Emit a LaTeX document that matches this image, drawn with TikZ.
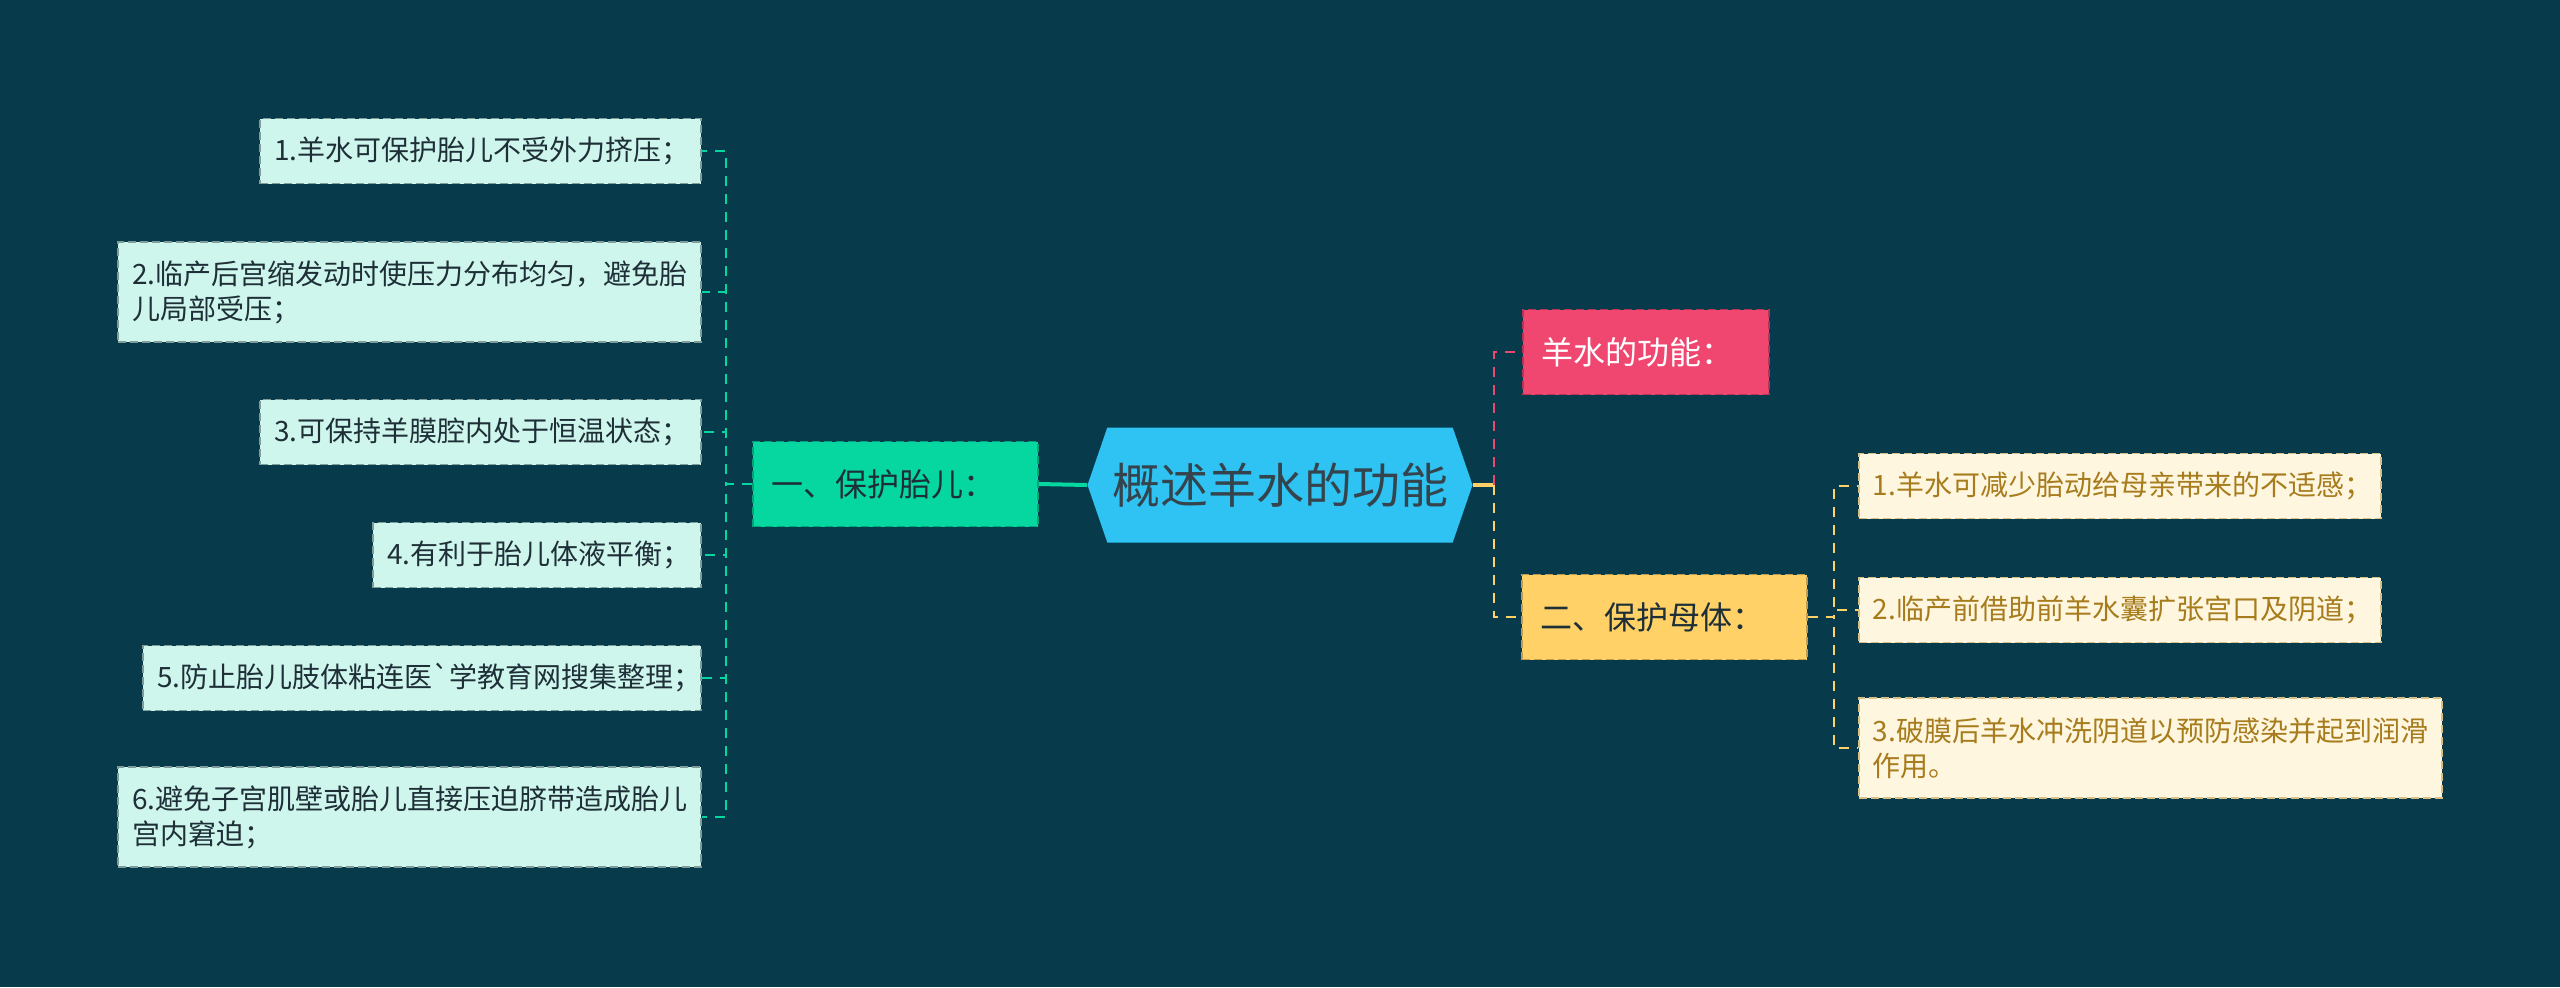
\documentclass[tikz,border=0pt]{standalone}
\usepackage{fontspec}
\setmainfont{Noto Sans CJK SC}
\usetikzlibrary{shapes.symbols}

\definecolor{bg}{HTML}{073A4B}
\definecolor{rootc}{HTML}{2EC3F3}
\definecolor{greenc}{HTML}{06D6A0}
\definecolor{mint}{HTML}{CFF6EC}
\definecolor{pinkc}{HTML}{EF476F}
\definecolor{yellowc}{HTML}{FFD166}
\definecolor{cream}{HTML}{FFF6E0}
\definecolor{gold}{HTML}{A67C1C}
\definecolor{ink}{HTML}{1E2F38}

\begin{document}
\begin{tikzpicture}[x=0.5pt,y=-0.5pt]

  \tikzstyle{box}=[dash pattern=on 4pt off 2pt,line width=0.8pt,inner xsep=7pt,inner ysep=0pt,align=left]
  \tikzstyle{topic}=[box,inner xsep=9pt,minimum height=42.5pt,font=\fontsize{16}{20}\selectfont]
  \tikzstyle{leafl}=[box,draw=ink!45!mint,fill=mint,text=ink,anchor=east,minimum height=32.5pt,font=\fontsize{14}{17.5}\selectfont]
  \tikzstyle{leafr}=[box,draw=gold!45!cream,fill=cream,text=gold,anchor=west,minimum height=32.5pt,font=\fontsize{14}{17.5}\selectfont]
  \tikzstyle{tline}=[greenc,line width=1pt,dash pattern=on 5pt off 4pt]
  \tikzstyle{pline}=[tline,pinkc]
  \tikzstyle{yline}=[tline,yellowc]

  \fill[bg] (0,0) rectangle (2560,987);
  \useasboundingbox (0,0) rectangle (2560,987);

  \begin{scope}

    \node [signal,signal to=west and east,signal pointer angle=142,fill=rootc,text=ink!90,
      minimum width=192.5pt,minimum height=57.5pt,inner sep=0pt,font=\fontsize{24}{29}\selectfont]
      (root) at (1280,485) {概述羊水的功能};

    \node [topic,draw=greenc!75!black,fill=greenc,text=ink,text width=124.5pt] (green) at (895.5,484) {一、保护胎儿：};

    \node [topic,draw=pinkc!75!black,fill=pinkc,text=white,text width=105pt] (pink) at (1646,352) {羊水的功能：};

    \node [topic,draw=yellowc!75!black,fill=yellowc,text=ink,text width=124.5pt] (yellow) at (1664.5,617) {二、保护母体：};

    % left leaves
    \node [leafl,text width=206.5pt] (l1) at (702,151) {1.羊水可保护胎儿不受外力挤压；};
    \node [leafl,text width=277.5pt,minimum height=50pt] (l2) at (702,292) {2.临产后宫缩发动时使压力分布均匀，避免胎\\儿局部受压；};
    \node [leafl,text width=206.5pt] (l3) at (702,432) {3.可保持羊膜腔内处于恒温状态；};
    \node [leafl,text width=150pt] (l4) at (702,555) {4.有利于胎儿体液平衡；};
    \node [leafl,text width=265pt] (l5) at (702,678) {5.防止胎儿肢体粘连医\textasciigrave 学教育网搜集整理；};
    \node [leafl,text width=277.5pt,minimum height=50pt] (l6) at (702,817) {6.避免子宫肌壁或胎儿直接压迫脐带造成胎儿\\宫内窘迫；};

    % right leaves
    \node [leafr,text width=247pt] (r1) at (1858,486) {1.羊水可减少胎动给母亲带来的不适感；};
    \node [leafr,text width=247pt] (r2) at (1858,610) {2.临产前借助前羊水囊扩张宫口及阴道；};
    \node [leafr,text width=277.5pt,minimum height=50pt] (r3) at (1858,748) {3.破膜后羊水冲洗阴道以预防感染并起到润滑\\作用。};

    \draw [greenc,line width=2pt] (green.east) -- (root.west);
    \foreach \n in {l1,l2,l3,l4,l5,l6}
      \draw [tline] (green.west) -- ++(-26,0) |- (\n.east);

    \draw [yellowc,line width=2pt] (root.east) -- ++(21,0) coordinate (rj);
    \draw [pline] (rj) |- (pink.west);
    \draw [yline] (rj) |- (yellow.west);
    \foreach \n in {r1,r2,r3}
      \draw [yline] (yellow.east) -- ++(26,0) |- (\n.west);

  \end{scope}

\end{tikzpicture}
\end{document}
